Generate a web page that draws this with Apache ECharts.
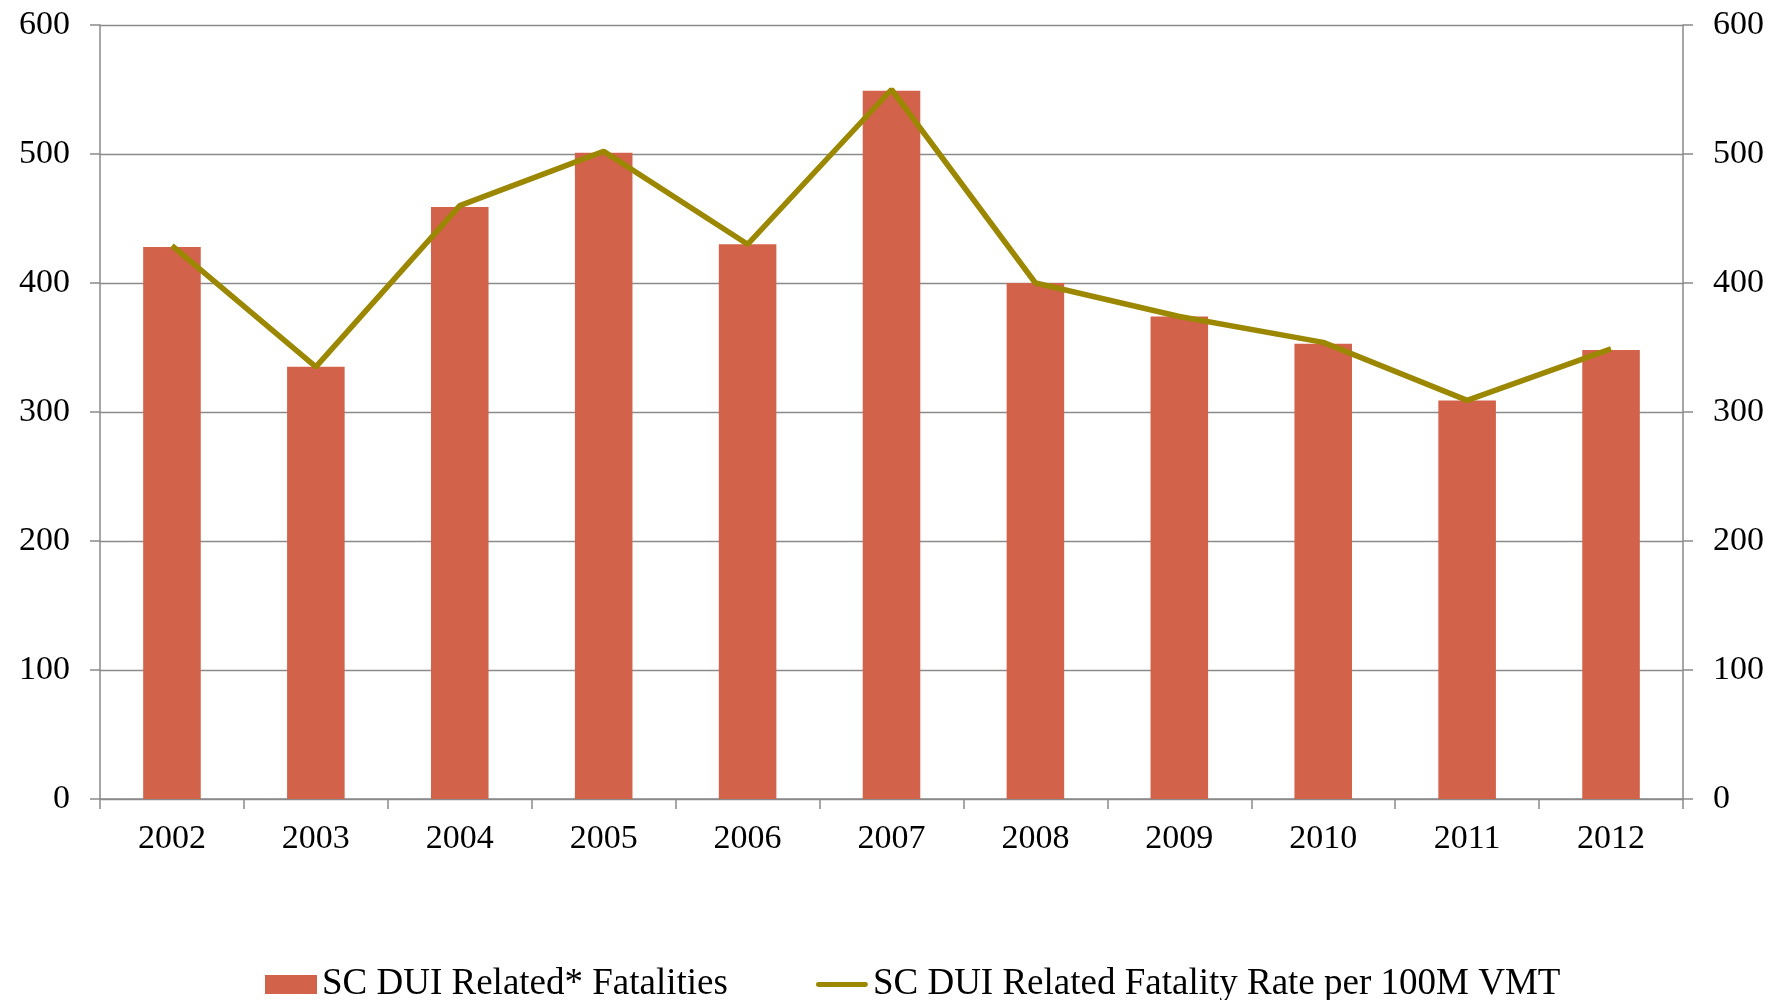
<!DOCTYPE html>
<html>
<head>
<meta charset="utf-8">
<script src="https://cdn.jsdelivr.net/npm/echarts@6/dist/echarts.min.js"></script>
<style>
  html, body { margin: 0; padding: 0; background: #fff; }
  #main { width: 1776px; height: 1000px; }
</style>
</head>
<body>
<div id="main"></div>
<script>
// data
const years = ['2002', '2003', '2004', '2005', '2006', '2007', '2008', '2009', '2010', '2011', '2012'];
const fatalities = [428, 335, 459, 501, 430, 549, 400, 374, 353, 309, 348];
const fatalityRate = [429, 335, 460, 502, 430, 550, 400, 374, 354, 309, 349];
const yTicks = [0, 100, 200, 300, 400, 500, 600];

const barName = 'SC DUI Related* Fatalities';
const lineName = 'SC DUI Related Fatality Rate per 100M VMT';

const serif = '"Liberation Serif", "DejaVu Serif", serif';
const grey = '#8a8a8a';

const chart = echarts.init(document.getElementById('main'));

function valueAxis(pos) {
  return {
    type: 'value',
    position: pos,
    min: yTicks[0],
    max: yTicks[yTicks.length - 1],
    interval: 100,
    axisLine: { show: true, lineStyle: { color: grey, width: 1.5 } },
    axisTick: { show: true, length: 10, lineStyle: { color: grey, width: 1.5 } },
    axisLabel: { color: '#000', fontFamily: serif, fontSize: 34, margin: 30 },
    splitLine: { show: pos === 'left', lineStyle: { color: grey, width: 1.3 } }
  };
}

const option = {
  backgroundColor: '#fff',
  animation: false,
  grid: { left: 100, right: 93, top: 25, bottom: 201, containLabel: false },
  legend: {
    left: 260,
    top: 961,
    itemWidth: 52,
    itemHeight: 19,
    itemGap: 88,
    textStyle: { color: '#000', fontFamily: serif, fontSize: 37 },
    data: [
      { name: barName, icon: 'rect' },
      { name: lineName, icon: 'path://M2,8 L50,8 A2.5,2.5 0 0 1 50,13 L2,13 A2.5,2.5 0 0 1 2,8 Z' }
    ]
  },
  xAxis: {
    type: 'category',
    data: years,
    axisLine: { lineStyle: { color: grey, width: 1.5 } },
    axisTick: { show: true, length: 10, alignWithLabel: false, lineStyle: { color: grey, width: 1.5 } },
    axisLabel: { color: '#000', fontFamily: serif, fontSize: 34, margin: 23 }
  },
  yAxis: [valueAxis('left'), valueAxis('right')],
  series: [
    {
      name: barName,
      type: 'bar',
      data: fatalities,
      barCategoryGap: '60%',
      itemStyle: { color: '#d2634a' }
    },
    {
      name: lineName,
      type: 'line',
      yAxisIndex: 1,
      data: fatalityRate,
      symbol: 'none',
      lineStyle: { color: '#9b8700', width: 5.5 },
      itemStyle: { color: '#9b8700' }
    }
  ]
};

chart.setOption(option);
</script>
</body>
</html>
